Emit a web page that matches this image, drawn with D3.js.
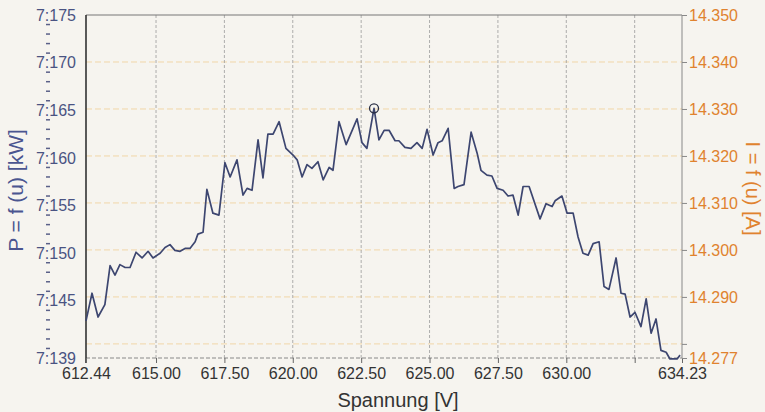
<!DOCTYPE html>
<html>
<head>
<meta charset="utf-8">
<script src="https://cdn.jsdelivr.net/npm/d3@7"></script>
<style>
  body { margin: 0; background: #f6f4ef; }
  svg { display: block; font-family: "Liberation Sans", Arial, sans-serif; }
</style>
</head>
<body>
<div id="chart"></div>
<script>
// voltage [V] and power [kW]
const voltage = [
  612.44, 612.66, 612.88, 613.13, 613.32, 613.50, 613.68, 613.87, 614.05, 614.27,
  614.49, 614.71, 614.89, 615.15, 615.33, 615.51, 615.69, 615.88, 616.06, 616.24,
  616.43, 616.53, 616.72, 616.86, 617.08, 617.30, 617.52, 617.71, 617.96, 618.18,
  618.33, 618.51, 618.73, 618.91, 619.09, 619.28, 619.50, 619.75, 620.01, 620.16,
  620.34, 620.52, 620.70, 620.92, 621.11, 621.33, 621.47, 621.69, 621.95, 622.35,
  622.53, 622.71, 622.97, 623.15, 623.34, 623.52, 623.74, 623.88, 624.10, 624.32,
  624.54, 624.73, 624.91, 625.13, 625.31, 625.46, 625.68, 625.90, 626.04, 626.26,
  626.52, 626.74, 626.88, 627.10, 627.28, 627.47, 627.69, 627.87, 628.05, 628.24,
  628.42, 628.64, 629.04, 629.26, 629.48, 629.59, 629.84, 630.03, 630.25, 630.43,
  630.61, 630.80, 630.98, 631.20, 631.38, 631.56, 631.82, 632.00, 632.15, 632.33,
  632.51, 632.73, 632.92, 633.10, 633.28, 633.46, 633.65, 633.79, 634.05, 634.16
];
const power = [
  7.1429, 7.1458, 7.1433, 7.1446, 7.1487, 7.1477, 7.1488, 7.1485, 7.1485, 7.1501,
  7.1495, 7.1502, 7.1495, 7.1500, 7.1506, 7.1509, 7.1503, 7.1502, 7.1505, 7.1505,
  7.1512, 7.1520, 7.1522, 7.1567, 7.1542, 7.1540, 7.1595, 7.1580, 7.1598, 7.1561,
  7.1568, 7.1566, 7.1619, 7.1579, 7.1625, 7.1625, 7.1638, 7.1610, 7.1603, 7.1598,
  7.1580, 7.1593, 7.1589, 7.1596, 7.1577, 7.1590, 7.1587, 7.1638, 7.1614, 7.1641,
  7.1616, 7.1610, 7.1652, 7.1619, 7.1629, 7.1629, 7.1618, 7.1618, 7.1611, 7.1610,
  7.1616, 7.1610, 7.1630, 7.1603, 7.1616, 7.1618, 7.1631, 7.1568, 7.1570, 7.1572,
  7.1627, 7.1605, 7.1587, 7.1582, 7.1581, 7.1568, 7.1566, 7.1560, 7.1561, 7.1540,
  7.1570, 7.1570, 7.1536, 7.1552, 7.1549, 7.1555, 7.1560, 7.1542, 7.1542, 7.1517,
  7.1500, 7.1498, 7.1510, 7.1512, 7.1465, 7.1462, 7.1495, 7.1458, 7.1457, 7.1433,
  7.1438, 7.1423, 7.1452, 7.1416, 7.1431, 7.1398, 7.1396, 7.1389, 7.1389, 7.1393
];
const peakIndex = 52;

const xTicks = [612.44, 615.00, 617.50, 620.00, 622.50, 625.00, 627.50, 630.00, 632.50, 634.23];
const xLabelled = [612.44, 615.00, 617.50, 620.00, 622.50, 625.00, 627.50, 630.00, 634.23];
const leftTicks = [7.175, 7.170, 7.165, 7.160, 7.155, 7.150, 7.145, 7.139];
const rightTicks = [14.350, 14.340, 14.330, 14.320, 14.310, 14.300, 14.290, 14.280, 14.277];
const rightLabelled = [14.350, 14.340, 14.330, 14.320, 14.310, 14.300, 14.290, 14.277];
const rightGrid = [14.340, 14.330, 14.320, 14.310, 14.300, 14.290, 14.280];

const width = 765, height = 412;
const plotL = 86, plotR = 682, plotT = 15, plotB = 358;

const svg = d3.select('#chart').append('svg')
  .attr('width', width)
  .attr('height', height);

svg.append('rect').attr('width', width).attr('height', height).attr('fill', '#f6f4ef');

const x = d3.scaleLinear().domain([612.44, 634.23]).range([plotL, plotR]);
const yL = d3.scaleLinear().domain([7.139, 7.175]).range([plotB, plotT]);
const yR = d3.scaleLinear().domain([14.277, 14.350]).range([plotB, plotT]);

// grid
svg.append('g').selectAll('line').data(rightGrid).join('line')
  .attr('x1', plotL).attr('x2', plotR)
  .attr('y1', d => yR(d)).attr('y2', d => yR(d))
  .attr('stroke', '#f1d6a8').attr('stroke-width', 1)
  .attr('stroke-dasharray', '6,3');

svg.append('g').selectAll('line').data(xTicks.slice(1, -1)).join('line')
  .attr('x1', d => x(d)).attr('x2', d => x(d))
  .attr('y1', plotT).attr('y2', plotB)
  .attr('stroke', '#9a9a9a').attr('stroke-width', 0.8)
  .attr('stroke-dasharray', '3,2');

// frame
svg.append('line').attr('x1', plotL).attr('x2', plotR).attr('y1', plotT).attr('y2', plotT)
  .attr('stroke', '#777').attr('stroke-width', 1);
svg.append('line').attr('x1', plotR).attr('x2', plotR).attr('y1', plotT).attr('y2', plotB)
  .attr('stroke', '#888').attr('stroke-width', 1);
svg.append('line').attr('x1', plotL).attr('x2', plotR).attr('y1', plotB).attr('y2', plotB)
  .attr('stroke', '#888').attr('stroke-width', 1).attr('stroke-dasharray', '4,2');
svg.append('line').attr('x1', plotL).attr('x2', plotL).attr('y1', plotT).attr('y2', plotB + 5)
  .attr('stroke', '#333').attr('stroke-width', 1.6);

// x axis
const xAxis = svg.append('g')
  .attr('transform', `translate(0,${plotB})`)
  .call(d3.axisBottom(x).tickValues(xTicks).tickSize(5).tickPadding(5)
    .tickFormat(d => xLabelled.includes(d) ? d3.format('.2f')(d) : ''));
xAxis.select('.domain').remove();
xAxis.selectAll('line').attr('stroke', '#666');
xAxis.selectAll('text').attr('fill', '#333').attr('font-size', 16)
  .attr('font-family', '"Liberation Sans", Arial, sans-serif');

svg.append('text')
  .attr('x', 398).attr('y', 407)
  .attr('text-anchor', 'middle')
  .attr('fill', '#333').attr('font-size', 20)
  .text('Spannung [V]');

// left axis
const leftAxis = svg.append('g')
  .attr('transform', `translate(${plotL - 10},0)`)
  .call(d3.axisLeft(yL).tickValues(leftTicks).tickSize(0).tickPadding(0)
    .tickFormat(d => d3.format('.3f')(d).replace('.', ':')));
leftAxis.select('.domain').remove();
leftAxis.selectAll('text').attr('fill', '#4a5382').attr('font-size', 16)
  .attr('font-family', '"Liberation Sans", Arial, sans-serif');

const minorLeft = d3.range(7139, 7176).map(d => d / 1000)
  .filter(d => !leftTicks.some(t => Math.abs(t - d) < 1e-6));
svg.append('g').selectAll('line').data(minorLeft).join('line')
  .attr('x1', 46).attr('x2', 50)
  .attr('y1', d => yL(d)).attr('y2', d => yL(d))
  .attr('stroke', '#5a6088').attr('stroke-width', 1.5);

svg.append('text')
  .attr('transform', `translate(23,${(plotT + plotB) / 2 + 4}) rotate(-90)`)
  .attr('text-anchor', 'middle')
  .attr('fill', '#4a5590').attr('font-size', 21)
  .text('P = f (u) [kW]');

// right axis
const rightAxis = svg.append('g')
  .attr('transform', `translate(${plotR},0)`)
  .call(d3.axisRight(yR).tickValues(rightTicks).tickSize(5).tickPadding(2)
    .tickFormat(d => rightLabelled.includes(d) ? d3.format('.3f')(d) : ''));
rightAxis.select('.domain').remove();
rightAxis.selectAll('line').attr('stroke', '#888');
rightAxis.selectAll('text').attr('fill', '#e0822e').attr('font-size', 16)
  .attr('font-family', '"Liberation Sans", Arial, sans-serif');

svg.append('text')
  .attr('transform', `translate(746,${(plotT + plotB) / 2 + 2}) rotate(90)`)
  .attr('text-anchor', 'middle')
  .attr('fill', '#e0822e').attr('font-size', 20)
  .text('I = f (u) [A]');

// series
const line = d3.line()
  .x((d, i) => x(voltage[i]))
  .y(d => yL(d));

svg.append('path')
  .datum(power)
  .attr('d', line)
  .attr('fill', 'none')
  .attr('stroke', '#3d4670')
  .attr('stroke-width', 1.7)
  .attr('stroke-linejoin', 'round');

svg.append('circle')
  .attr('cx', x(voltage[peakIndex]))
  .attr('cy', yL(power[peakIndex]))
  .attr('r', 4.5)
  .attr('fill', 'none')
  .attr('stroke', '#2a2f45')
  .attr('stroke-width', 1.3);
</script>
</body>
</html>
